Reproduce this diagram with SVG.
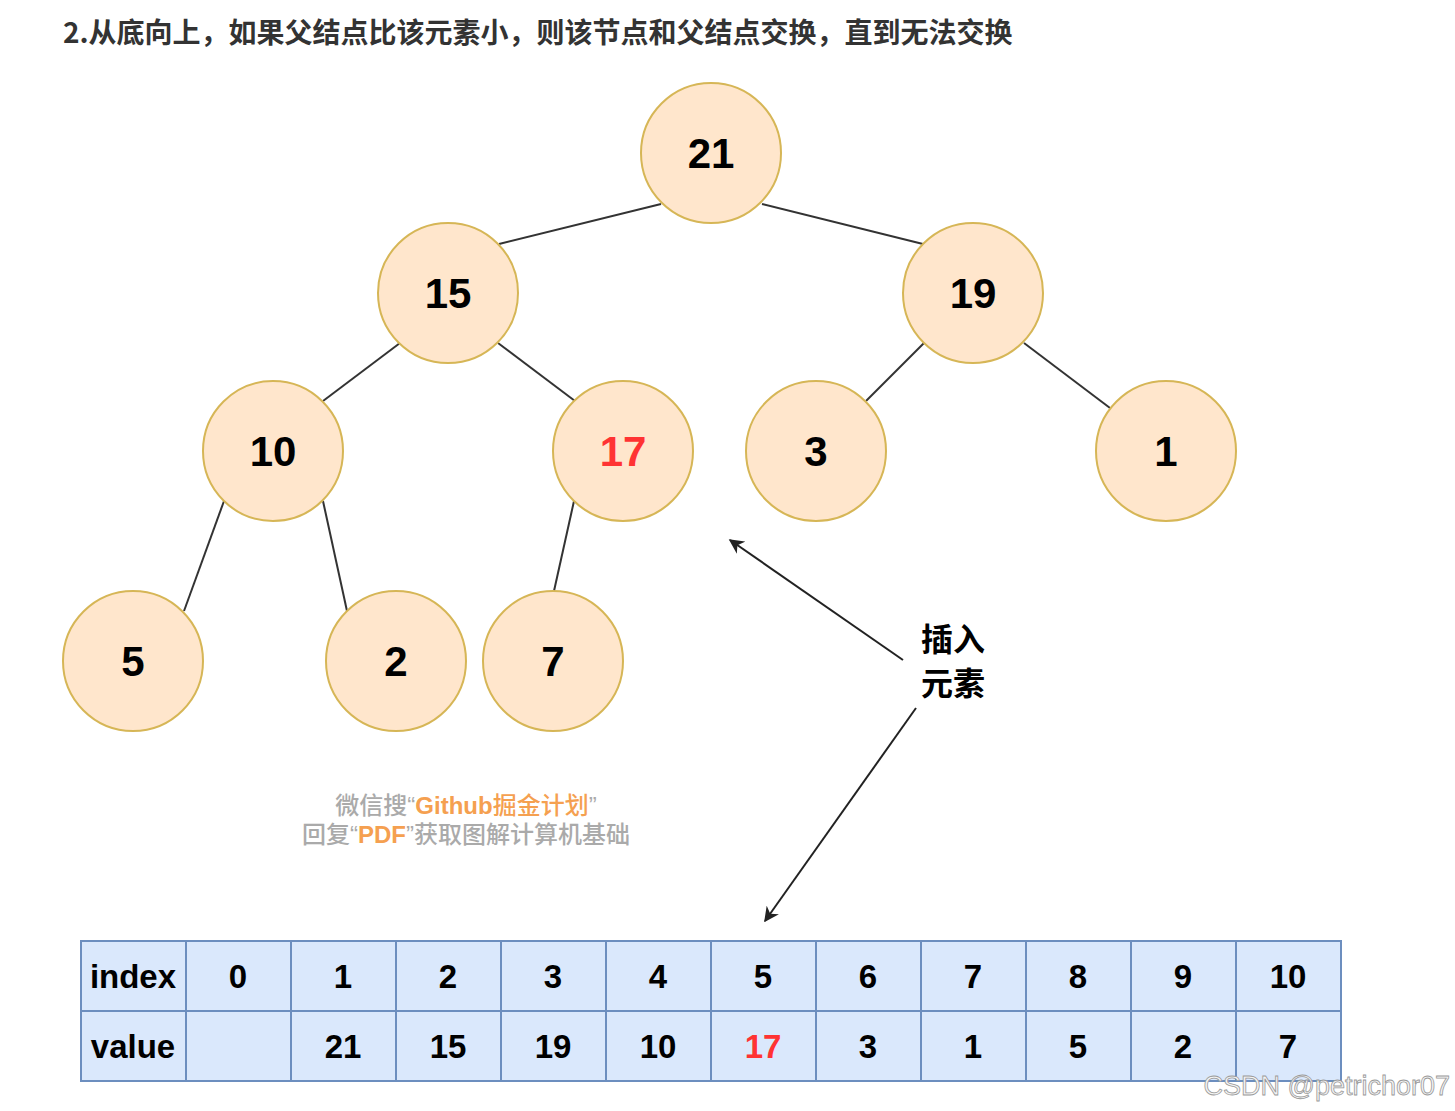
<svg xmlns="http://www.w3.org/2000/svg" width="1455" height="1111" viewBox="0 0 1455 1111">
<defs>
<style>
.node circle{fill:#ffe6cc;stroke:#d6b656;stroke-width:2}
.node text{font-family:"Liberation Sans",Arial,sans-serif;font-weight:bold;font-size:42px;text-anchor:middle;dominant-baseline:central;fill:#000}
.edge{stroke:#333;stroke-width:2;fill:none}
.arr{stroke:#222;stroke-width:2;fill:none}
.cell rect{fill:#dae8fc;stroke:#6c8ebf;stroke-width:2}
.cell text{font-family:"Liberation Sans",Arial,sans-serif;font-weight:bold;font-size:33px;text-anchor:middle;dominant-baseline:central;fill:#000}
.red{fill:#ff3333 !important}
.cjk{font-family:"Noto Sans CJK SC","Liberation Sans",sans-serif;font-weight:bold}
.lat{font-family:"Liberation Sans",Arial,sans-serif}
</style>
<marker id="ah" viewBox="0 0 10 10" refX="9" refY="5" markerWidth="15" markerHeight="15" markerUnits="userSpaceOnUse" orient="auto-start-reverse">
<path d="M0,0 L10,5 L0,10 L3,5 Z" fill="#222"/>
</marker>
</defs>
<rect width="1455" height="1111" fill="#fff"/>
<text x="63" y="43" class="cjk" font-size="28" fill="#333">2.从底向上，如果父结点比该元素小，则该节点和父结点交换，直到无法交换</text>
<g id="edges">
<line class="edge" x1="661" y1="204" x2="499" y2="244"/>
<line class="edge" x1="762" y1="204" x2="923" y2="244"/>
<line class="edge" x1="400" y1="343" x2="323" y2="401"/>
<line class="edge" x1="498" y1="343" x2="575" y2="401"/>
<line class="edge" x1="924" y1="343" x2="866" y2="401"/>
<line class="edge" x1="1024" y1="343" x2="1110" y2="408"/>
<line class="edge" x1="224" y1="501" x2="184" y2="611"/>
<line class="edge" x1="323" y1="501" x2="347" y2="611"/>
<line class="edge" x1="574" y1="501" x2="554" y2="591"/>
<line class="arr" x1="903" y1="660" x2="730" y2="540" marker-end="url(#ah)"/>
<line class="arr" x1="916" y1="708" x2="765" y2="921" marker-end="url(#ah)"/>
</g>
<g id="n21" class="node"><circle cx="711" cy="153" r="70"/><text x="711" y="153">21</text></g>
<g id="n15" class="node"><circle cx="448" cy="293" r="70"/><text x="448" y="293">15</text></g>
<g id="n19" class="node"><circle cx="973" cy="293" r="70"/><text x="973" y="293">19</text></g>
<g id="n10" class="node"><circle cx="273" cy="451" r="70"/><text x="273" y="451">10</text></g>
<g id="n17" class="node"><circle cx="623" cy="451" r="70"/><text x="623" y="451" class="red">17</text></g>
<g id="n3" class="node"><circle cx="816" cy="451" r="70"/><text x="816" y="451">3</text></g>
<g id="n1" class="node"><circle cx="1166" cy="451" r="70"/><text x="1166" y="451">1</text></g>
<g id="n5" class="node"><circle cx="133" cy="661" r="70"/><text x="133" y="661">5</text></g>
<g id="n2" class="node"><circle cx="396" cy="661" r="70"/><text x="396" y="661">2</text></g>
<g id="n7" class="node"><circle cx="553" cy="661" r="70"/><text x="553" y="661">7</text></g>
<g id="label-insert">
<text x="921" y="651" class="cjk" font-size="32" fill="#000">插入</text>
<text x="921" y="695" class="cjk" font-size="32" fill="#000">元素</text>
</g>
<g id="watermark" font-family="Noto Sans CJK SC,Liberation Sans,sans-serif" font-size="24" font-weight="500" text-anchor="middle" fill="#aaaaaa">
<text x="466" y="814">微信搜<tspan class="lat">“</tspan><tspan fill="#f5a050"><tspan class="lat" font-weight="bold">Github</tspan>掘金计划</tspan><tspan class="lat">”</tspan></text>
<text x="466" y="843">回复<tspan class="lat">“</tspan><tspan fill="#f5a050" class="lat" font-weight="bold">PDF</tspan><tspan class="lat">”</tspan>获取图解计算机基础</text>
</g>
<g id="table">
<g class="cell"><rect x="81" y="941" width="105" height="70"/><text x="133" y="976">index</text></g>
<g class="cell"><rect x="186" y="941" width="105" height="70"/><text x="238" y="976">0</text></g>
<g class="cell"><rect x="291" y="941" width="105" height="70"/><text x="343" y="976">1</text></g>
<g class="cell"><rect x="396" y="941" width="105" height="70"/><text x="448" y="976">2</text></g>
<g class="cell"><rect x="501" y="941" width="105" height="70"/><text x="553" y="976">3</text></g>
<g class="cell"><rect x="606" y="941" width="105" height="70"/><text x="658" y="976">4</text></g>
<g class="cell"><rect x="711" y="941" width="105" height="70"/><text x="763" y="976">5</text></g>
<g class="cell"><rect x="816" y="941" width="105" height="70"/><text x="868" y="976">6</text></g>
<g class="cell"><rect x="921" y="941" width="105" height="70"/><text x="973" y="976">7</text></g>
<g class="cell"><rect x="1026" y="941" width="105" height="70"/><text x="1078" y="976">8</text></g>
<g class="cell"><rect x="1131" y="941" width="105" height="70"/><text x="1183" y="976">9</text></g>
<g class="cell"><rect x="1236" y="941" width="105" height="70"/><text x="1288" y="976">10</text></g>
<g class="cell"><rect x="81" y="1011" width="105" height="70"/><text x="133" y="1046">value</text></g>
<g class="cell"><rect x="186" y="1011" width="105" height="70"/></g>
<g class="cell"><rect x="291" y="1011" width="105" height="70"/><text x="343" y="1046">21</text></g>
<g class="cell"><rect x="396" y="1011" width="105" height="70"/><text x="448" y="1046">15</text></g>
<g class="cell"><rect x="501" y="1011" width="105" height="70"/><text x="553" y="1046">19</text></g>
<g class="cell"><rect x="606" y="1011" width="105" height="70"/><text x="658" y="1046">10</text></g>
<g class="cell"><rect x="711" y="1011" width="105" height="70"/><text x="763" y="1046" class="red">17</text></g>
<g class="cell"><rect x="816" y="1011" width="105" height="70"/><text x="868" y="1046">3</text></g>
<g class="cell"><rect x="921" y="1011" width="105" height="70"/><text x="973" y="1046">1</text></g>
<g class="cell"><rect x="1026" y="1011" width="105" height="70"/><text x="1078" y="1046">5</text></g>
<g class="cell"><rect x="1131" y="1011" width="105" height="70"/><text x="1183" y="1046">2</text></g>
<g class="cell"><rect x="1236" y="1011" width="105" height="70"/><text x="1288" y="1046">7</text></g>
</g>
<text x="1450" y="1095" text-anchor="end" font-family="Liberation Sans Narrow,Liberation Sans,sans-serif" font-size="27" fill="#f4f4f4" stroke="#999" stroke-width="0.8">CSDN @petrichor07</text>
</svg>
